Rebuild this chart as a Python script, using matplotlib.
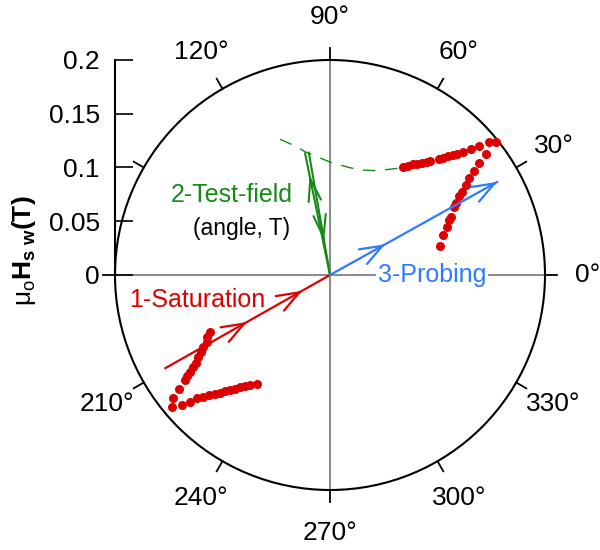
import numpy as np
import matplotlib
matplotlib.use('Agg')
import matplotlib.pyplot as plt
from matplotlib.patches import Circle

plt.rcParams['font.family'] = ['Liberation Sans', 'DejaVu Sans']
plt.rcParams['mathtext.fontset'] = 'custom'
plt.rcParams['mathtext.rm'] = 'Liberation Sans'
plt.rcParams['mathtext.it'] = 'Liberation Sans:italic'
plt.rcParams['mathtext.bf'] = 'Liberation Sans:bold'

# switching field points, components in tesla
upper_flat_x = [0.0682, 0.0728, 0.0775, 0.0807, 0.0853, 0.0900, 0.0930, 0.1017, 0.1054,
                0.1100, 0.1147, 0.1184, 0.1234, 0.1309, 0.1383, 0.1482, 0.1541]
upper_flat_y = [0.1002, 0.1014, 0.1030, 0.1033, 0.1045, 0.1054, 0.1060, 0.1079, 0.1091,
                0.1107, 0.1119, 0.1128, 0.1144, 0.1172, 0.1200, 0.1234, 0.1237]
upper_steep_x = [0.1451, 0.1389, 0.1340, 0.1296, 0.1265, 0.1225, 0.1203, 0.1172, 0.1153,
                 0.1123, 0.1110, 0.1086, 0.1054, 0.1023]
upper_steep_y = [0.1126, 0.1045, 0.0970, 0.0900, 0.0837, 0.0775, 0.0735, 0.0673, 0.0630,
                 0.0542, 0.0512, 0.0449, 0.0372, 0.0270]
lower_flat_x = [-0.0682, -0.0744, -0.0791, -0.0837, -0.0884, -0.0930, -0.0977, -0.1023,
                -0.1070, -0.1123, -0.1179, -0.1234, -0.1302, -0.1380, -0.1473]
lower_flat_y = [-0.1014, -0.1023, -0.1033, -0.1045, -0.1058, -0.1070, -0.1082, -0.1095,
                -0.1107, -0.1119, -0.1132, -0.1147, -0.1179, -0.1209, -0.1231]
lower_steep_x = [-0.1116, -0.1141, -0.1147, -0.1179, -0.1203, -0.1225, -0.1247, -0.1272,
                 -0.1302, -0.1327, -0.1349, -0.1405, -0.1458]
lower_steep_y = [-0.0527, -0.0574, -0.0620, -0.0667, -0.0713, -0.0766, -0.0816, -0.0853,
                 -0.0900, -0.0940, -0.0977, -0.1060, -0.1147]

# dashed fit curve
fit_x = [-0.0465, -0.0310, -0.0233, -0.0062, 0.0016, 0.0170, 0.0279, 0.0434, 0.0496, 0.0635, 0.0679]
fit_y = [0.1262, 0.1194, 0.1147, 0.1076, 0.1045, 0.1002, 0.0977, 0.0970, 0.0977, 0.0993, 0.1005]

# field steps: angle (deg), magnitude (T)
sat_angle, sat_field = 209.5, 0.176
test_angle, test_field = 100.7, 0.1155
probe_angle, probe_field = 29.1, 0.178

r_max = 0.2
angle_ticks = [0, 30, 60, 90, 120, 150, 180, 210, 240, 270, 300, 330]
angle_labels = [0, 30, 60, 90, 120, 210, 240, 270, 300, 330]
ytick_vals = [0, 0.05, 0.1, 0.15, 0.2]
ytick_labels = ['0', '0.05', '0.1', '0.15', '0.2']

red = '#e00000'
green = '#168a16'
blue = '#2f7bff'

fig = plt.figure(figsize=(6, 5.5), dpi=100)
ax = fig.add_axes([0, 0, 1, 1])
ax.set_xlim(-0.30698, 0.25116)
ax.set_ylim(-0.25581, 0.25581)

# left axis as field scale
for s in ['top', 'right', 'bottom']:
    ax.spines[s].set_visible(False)
ax.spines['left'].set_position(('data', -r_max))
ax.spines['left'].set_bounds(0, r_max)
ax.spines['left'].set_linewidth(1.5)
ax.set_xticks([])
ax.set_yticks(ytick_vals)
ax.set_yticklabels(ytick_labels)
ax.tick_params(axis='y', direction='in', length=13, width=1.2, pad=11, labelsize=19)
ax.set_ylabel(r'$\mathrm{\mu}_\mathrm{o}\mathbf{H}_{\mathbf{s\ w}}\mathbf{(T)}$',
              fontsize=19, va='center')
ax.yaxis.set_label_coords(0.04, 0.545)

# grey cross lines
ax.plot([-r_max, r_max], [0, 0], color='#808080', lw=1.3, zorder=1)
ax.plot([0, 0], [-r_max, r_max], color='#808080', lw=1.3, zorder=1)

# polar frame
ax.add_patch(Circle((0, 0), r_max, fill=False, ec='black', lw=1.5, zorder=2))
for a in angle_ticks:
    t = np.deg2rad(a)
    ax.plot([r_max * np.cos(t), 1.054 * r_max * np.cos(t)],
            [r_max * np.sin(t), 1.054 * r_max * np.sin(t)], color='black', lw=1.3, zorder=2)
for a in angle_labels:
    t = np.deg2rad(a)
    ax.text(0.24 * np.cos(t), 0.24 * np.sin(t), f'{a}°', fontsize=19,
            ha='center', va='center')

# fit and data
ax.plot(fit_x, fit_y, color=green, lw=1, dashes=(9, 7), zorder=3)
for xs, ys in [(upper_flat_x, upper_flat_y), (upper_steep_x, upper_steep_y),
               (lower_flat_x, lower_flat_y), (lower_steep_x, lower_steep_y)]:
    ax.plot(xs, ys, 'o', color='#dd0000', ms=6.5, mec='none', zorder=4)


def field_arrow(p0, p1, marks, color, lw=1.6, hw=0.6):
    p0 = np.asarray(p0, float)
    p1 = np.asarray(p1, float)
    ax.plot([p0[0], p1[0]], [p0[1], p1[1]], color=color, lw=lw, zorder=5)
    for f in marks:
        tip = p0 + f * (p1 - p0)
        back = p0 + (f - 0.02) * (p1 - p0)
        ax.annotate('', xy=tip, xytext=back, zorder=5,
                    arrowprops=dict(arrowstyle=f'->,head_length=1.6,head_width={hw}',
                                    color=color, lw=lw, shrinkA=0, shrinkB=0))


def polar(angle, r):
    t = np.deg2rad(angle)
    return np.array([r * np.cos(t), r * np.sin(t)])


origin = np.array([0.0, 0.0])
# 1 - saturation
field_arrow(polar(sat_angle, sat_field), origin, [0.495, 0.83], red)
# 2 - test field, out and back
tp = polar(test_angle, test_field)
nrm = polar(test_angle - 90, 0.0018)
field_arrow(origin, tp - nrm, [0.82], green, lw=1.5, hw=0.45)
field_arrow(tp + nrm, origin, [0.72], green, lw=1.5, hw=0.45)
# 3 - probing
field_arrow(origin, polar(probe_angle, probe_field), [0.33, 1.0], blue)

ax.text(-0.1233, -0.0228, '1-Saturation', color=red, fontsize=18, ha='center', va='center')
ax.text(-0.0916, 0.0744, '2-Test-field', color=green, fontsize=18, ha='center', va='center')
ax.text(-0.0823, 0.0437, '(angle, T)', color='black', fontsize=16.5, ha='center', va='center')
ax.text(0.0949, 0.0, '3-Probing', color=blue, fontsize=18, ha='center', va='center',
        zorder=6, bbox=dict(facecolor='white', edgecolor='none', pad=1))

fig.savefig('out.png', dpi=100)
